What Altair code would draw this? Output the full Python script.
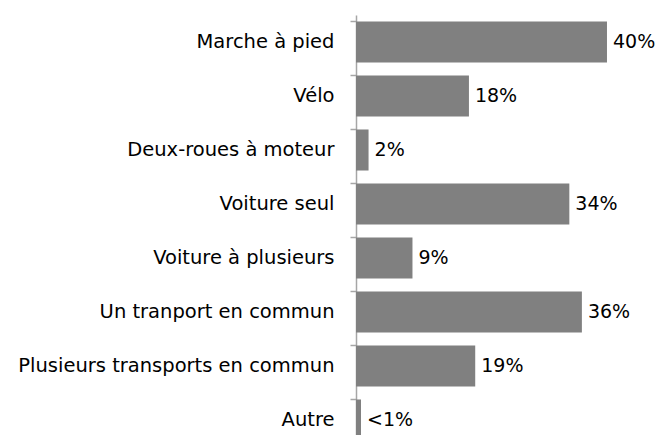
import altair as alt
import pandas as pd

categories = ["Marche à pied", "Vélo", "Deux-roues à moteur", "Voiture seul",
              "Voiture à plusieurs", "Un tranport en commun",
              "Plusieurs transports en commun", "Autre"]
values = [40, 18, 2, 34, 9, 36, 19, 0.8]
value_labels = ["40%", "18%", "2%", "34%", "9%", "36%", "19%", "<1%"]

df = pd.DataFrame({"cat": categories, "val": values, "lab": value_labels})

FONT = "DejaVu Sans"

y = alt.Y("cat:N", sort=categories, title=None,
          scale=alt.Scale(paddingInner=0.24, paddingOuter=0.12),
          axis=alt.Axis(bandPosition=0, tickSize=6,
                        labelPadding=16, labelFont=FONT, labelFontSize=19.5,
                        labelColor="#000000", domainColor="#a6a6a6",
                        tickColor="#a6a6a6", domainWidth=1.5, tickWidth=1.5,
                        labelLimit=400))
x = alt.X("val:Q", title=None, scale=alt.Scale(domain=[0, 48.13], nice=False, zero=True),
          axis=None)

bars = alt.Chart(df).mark_bar(color="#808080").encode(x=x, y=y)
text = alt.Chart(df).mark_text(align="left", baseline="middle", dx=6,
                               font=FONT, fontSize=19, color="#000000").encode(
    x=x, y=y, text="lab:N")

chart = (bars + text).properties(
    width=302, height=432,
    autosize=alt.AutoSizeParams(type="none"),
    padding={"left": 348, "top": 7, "right": 0, "bottom": -12},
).configure_view(stroke=None)

chart.save("out.html", embed_options={"renderer": "svg", "actions": False})
